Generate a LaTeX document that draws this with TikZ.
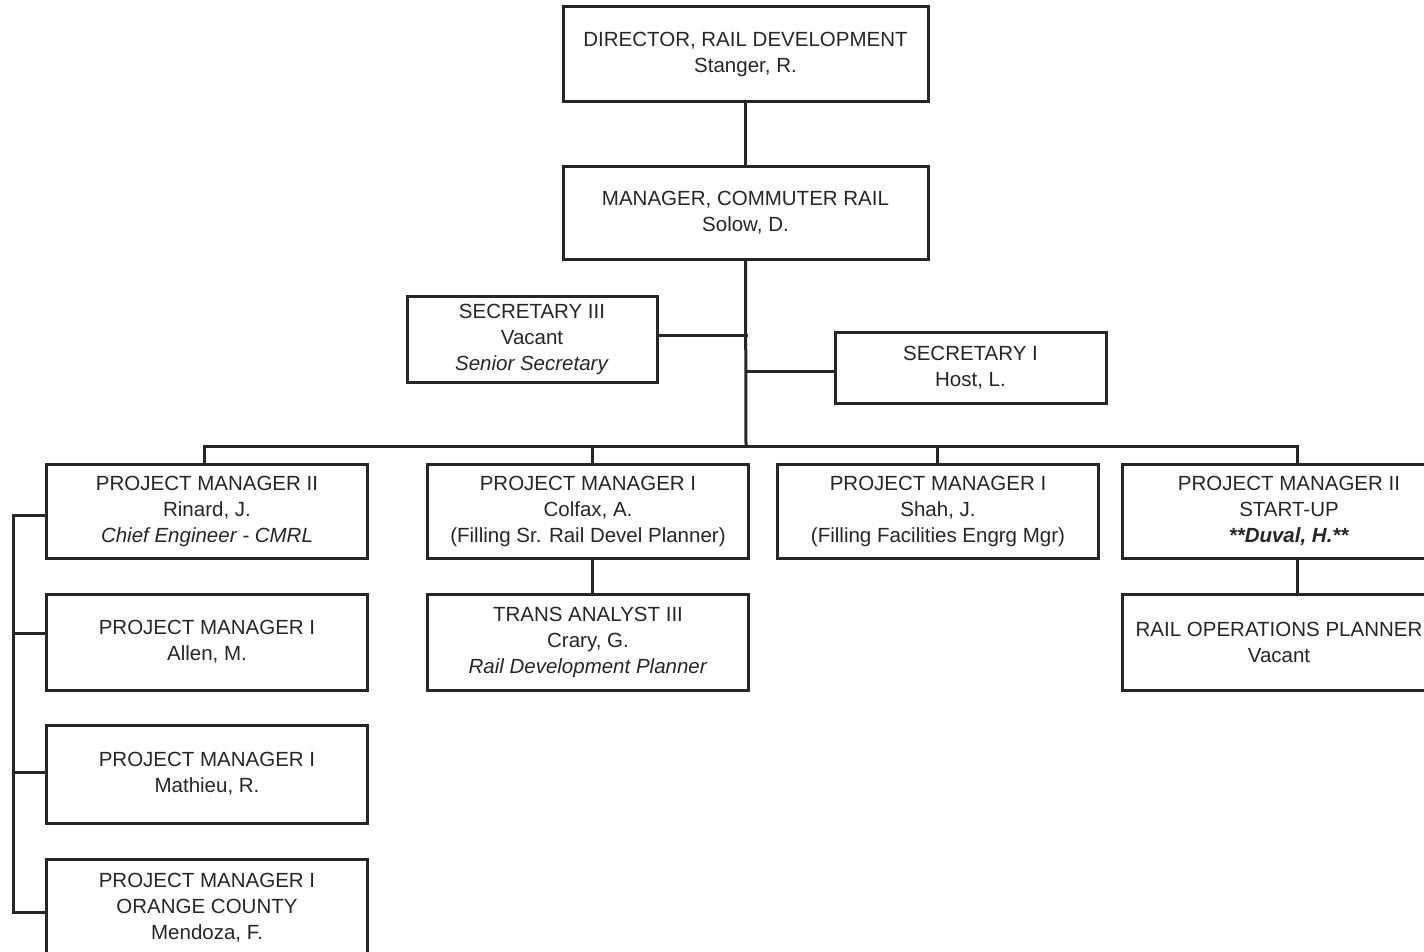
\documentclass[tikz,border=0pt]{standalone}
\usepackage{fontspec}
\setmainfont{Liberation Sans}
\definecolor{ink}{RGB}{38,38,38}
\begin{document}
\begin{tikzpicture}[x=1pt,y=-1pt,
  orgbox/.style={draw=ink, line width=3pt, inner sep=0pt, align=center, text=ink,
    font=\fontsize{20.5}{26}\selectfont},
  link/.style={draw=ink, line width=3pt, line cap=rect}]
\useasboundingbox (0,0) rectangle (1424,952);
\clip (0,0) rectangle (1424,952);
\fill[white] (0,0) rectangle (1424,952);
% top
\node[orgbox, minimum width=365pt, minimum height=95pt] (dir) at (745.5,54.5) {DIRECTOR, RAIL DEVELOPMENT\\Stanger, R.};
\node[orgbox, minimum width=365pt, minimum height=93pt] (mgr) at (745.5,213) {MANAGER, COMMUTER RAIL\\Solow, D.};
\node[orgbox, minimum width=250pt, minimum height=86pt] (sec3) at (532,339) {SECRETARY III\\Vacant\\\textit{Senior Secretary}};
\node[orgbox, minimum width=271pt, minimum height=71pt] (sec1) at (970.5,367.5) {SECRETARY I\\Host, L.};
% row of project managers
\node[orgbox, minimum width=321pt, minimum height=94pt] (pmr) at (207,511) {PROJECT MANAGER II\\Rinard, J.\\\textit{Chief Engineer - CMRL}};
\node[orgbox, minimum width=321pt, minimum height=94pt] (pmc) at (588,511) {PROJECT MANAGER I\\Colfax, A.\\(Filling Sr. Rail Devel Planner)};
\node[orgbox, minimum width=321pt, minimum height=94pt] (pms) at (938,511) {PROJECT MANAGER I\\Shah, J.\\(Filling Facilities Engrg Mgr)};
\node[orgbox, minimum width=334pt, minimum height=94pt] (pmu) at (1289,511) {PROJECT MANAGER II\\START-UP\\\textbf{\textit{**Duval, H.**}}};
% second level
\node[orgbox, minimum width=321pt, minimum height=96pt] (ta) at (588,642) {TRANS ANALYST III\\Crary, G.\\\textit{Rail Development Planner}};
\node[orgbox, minimum width=314pt, minimum height=96pt] (rop) at (1279,642) {RAIL OPERATIONS PLANNER\\Vacant};
% left column
\node[orgbox, minimum width=321pt, minimum height=96pt] (pma) at (207,642) {PROJECT MANAGER I\\Allen, M.};
\node[orgbox, minimum width=321pt, minimum height=98pt] (pmm) at (207,774) {PROJECT MANAGER I\\Mathieu, R.};
\node[orgbox, minimum width=321pt, minimum height=98pt] (pmo) at (207,908) {PROJECT MANAGER I\\ORANGE COUNTY\\Mendoza, F.};
% coordinates
\coordinate (tb) at (746,446);
\coordinate (b1) at (204,446);
\coordinate (b2) at (592,446);
\coordinate (b3) at (937,446);
\coordinate (b4) at (1297,446);
\coordinate (s3) at (746,335);
\coordinate (s1) at (746,371);
\coordinate (l1) at (13,515);
\coordinate (l2) at (13,633);
\coordinate (l3) at (13,772);
\coordinate (l4) at (13,912);
% connectors
\draw[link] (dir.south) -- (mgr.north);
\draw[link] (mgr.south) -- (tb);
\draw[link] (s3) -- (s3 -| sec3.east);
\draw[link] (s1) -- (s1 -| sec1.west);
\draw[link] (b1) -- (b4);
\draw[link] (b1) -- (b1 |- pmr.north);
\draw[link] (b2) -- (b2 |- pmc.north);
\draw[link] (b3) -- (b3 |- pms.north);
\draw[link] (b4) -- (b4 |- pmu.north);
\draw[link] (b2 |- pmc.south) -- (b2 |- ta.north);
\draw[link] (b4 |- pmu.south) -- (b4 |- rop.north);
\draw[link] (l1) -- (l4);
\draw[link] (l1) -- (l1 -| pmr.west);
\draw[link] (l2) -- (l2 -| pma.west);
\draw[link] (l3) -- (l3 -| pmm.west);
\draw[link] (l4) -- (l4 -| pmo.west);
\end{tikzpicture}
\end{document}
